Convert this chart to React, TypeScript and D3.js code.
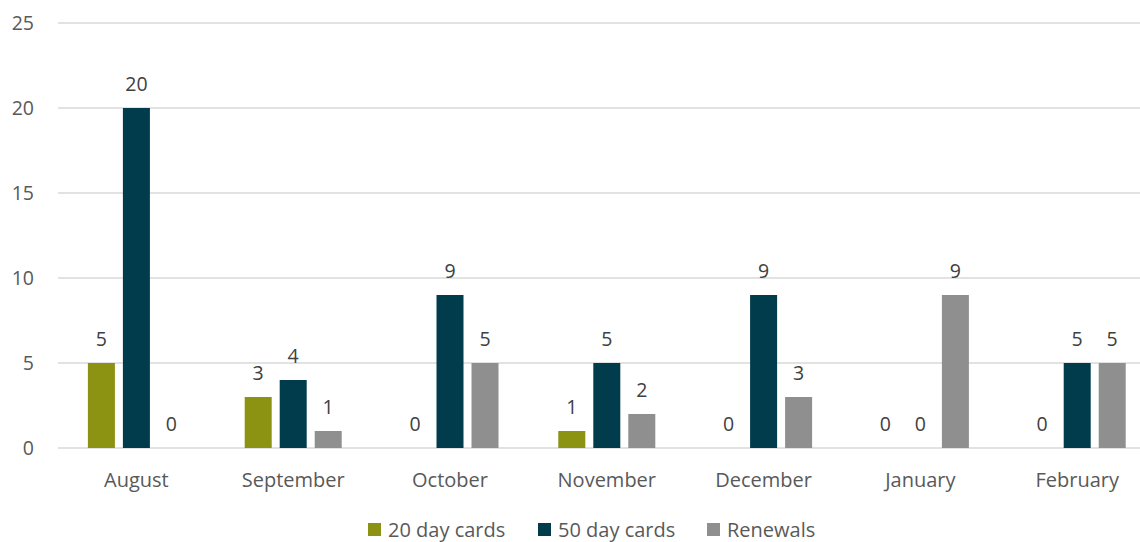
import React from "react";
import * as d3 from "d3";

const months = ["August", "September", "October", "November", "December", "January", "February"];
const seriesNames = ["20 day cards", "50 day cards", "Renewals"];
const cards20 = [5, 3, 0, 1, 0, 0, 0];
const cards50 = [20, 4, 9, 5, 9, 0, 5];
const renewals = [0, 1, 5, 2, 3, 9, 5];
const yTicks = [0, 5, 10, 15, 20, 25];
const colors = ["#8c9212", "#003c4b", "#8f8f8f"];

const W = 1140;
const H = 542;
const FONT = "'Open Sans', Lato, sans-serif";
const TEXT = "#595959";

export default function App() {
  const seriesValues = [cards20, cards50, renewals];
  const y = d3.scaleLinear().domain([0, 25]).range([448, 23]);
  const x0 = d3.scaleBand<string>().domain(months).range([58, 1155.6]).padding(0);
  const bw = x0.bandwidth();
  const x1 = d3
    .scaleBand<string>()
    .domain(seriesNames)
    .range([0, bw])
    .paddingInner(8 / 35)
    .paddingOuter(0.854);
  const legendX = [368, 538, 707];

  return (
    <svg width={W} height={H} style={{ position: "absolute", left: 0, top: 0, background: "#fff" }}>
      <rect x={0} y={0} width={W} height={H} fill="#fff" />
      {yTicks.map((t) => (
        <g key={t}>
          <line x1={58} x2={W} y1={y(t)} y2={y(t)} stroke="#d9d9d9" strokeWidth={1.3} />
          <text
            x={34}
            y={y(t)}
            dy="0.35em"
            textAnchor="end"
            fontFamily={FONT}
            fontSize={19.5}
            fill={TEXT}
          >
            {t}
          </text>
        </g>
      ))}
      {months.map((m, i) => (
        <g key={m} transform={`translate(${x0(m)},0)`}>
          {seriesNames.map((s, j) => {
            const v = seriesValues[j][i];
            const bx = x1(s)!;
            return (
              <g key={s}>
                {v > 0 && (
                  <rect x={bx} y={y(v)} width={x1.bandwidth()} height={y(0) - y(v)} fill={colors[j]} />
                )}
                <text
                  x={bx + x1.bandwidth() / 2}
                  y={y(v) - 17}
                  textAnchor="middle"
                  fontFamily={FONT}
                  fontSize={19.5}
                  fill="#404040"
                >
                  {v}
                </text>
              </g>
            );
          })}
          <text
            x={bw / 2}
            y={487}
            textAnchor="middle"
            fontFamily={FONT}
            fontSize={20}
            fill={TEXT}
          >
            {m}
          </text>
        </g>
      ))}
      {seriesNames.map((s, j) => (
        <g key={s} transform={`translate(${legendX[j]},0)`}>
          <rect x={0} y={523} width={13} height={13} fill={colors[j]} />
          <text x={20} y={537} fontFamily={FONT} fontSize={20} fill={TEXT}>
            {s}
          </text>
        </g>
      ))}
    </svg>
  );
}
